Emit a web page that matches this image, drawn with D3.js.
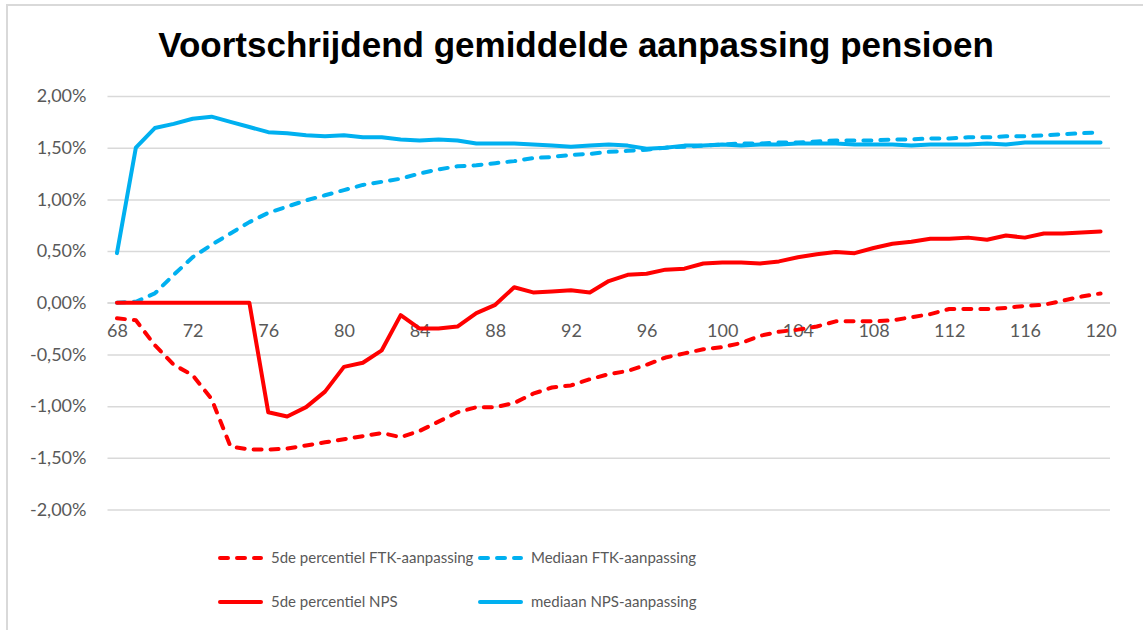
<!DOCTYPE html>
<html lang="nl">
<head>
<meta charset="utf-8">
<title>Voortschrijdend gemiddelde aanpassing pensioen</title>
<script src="https://cdn.jsdelivr.net/npm/d3@7"></script>
<style>
  body { margin: 0; background: #fff; }
  svg { display: block; }
  .tick text { font-family: Lato, "Open Sans", sans-serif; font-size: 18px; fill: #595959; }
</style>
</head>
<body>
<script>
// ages 68..120
var ages = d3.range(68, 121);
var xTicks = [68, 72, 76, 80, 84, 88, 92, 96, 100, 104, 108, 112, 116, 120];
var yTicks = [-2, -1.5, -1, -0.5, 0, 0.5, 1, 1.5, 2];

// values in percent
var ftk5 = [-0.15, -0.17, -0.41, -0.60, -0.70, -0.93, -1.39, -1.42, -1.42, -1.41,
  -1.38, -1.35, -1.32, -1.29, -1.26, -1.30, -1.24, -1.15, -1.06, -1.01,
  -1.01, -0.97, -0.88, -0.82, -0.80, -0.74, -0.69, -0.66, -0.60, -0.53,
  -0.49, -0.45, -0.43, -0.39, -0.32, -0.28, -0.26, -0.23, -0.18, -0.18,
  -0.18, -0.17, -0.14, -0.11, -0.06, -0.06, -0.06, -0.05, -0.03, -0.02,
  0.02, 0.06, 0.09];
var ftkMed = [0.00, 0.01, 0.09, 0.27, 0.44, 0.56, 0.67, 0.78, 0.87, 0.93,
  0.99, 1.04, 1.09, 1.14, 1.17, 1.20, 1.25, 1.29, 1.32, 1.33,
  1.35, 1.37, 1.40, 1.41, 1.43, 1.44, 1.46, 1.47, 1.48, 1.50,
  1.51, 1.52, 1.53, 1.54, 1.54, 1.55, 1.55, 1.56, 1.57, 1.57,
  1.57, 1.58, 1.58, 1.59, 1.59, 1.60, 1.60, 1.61, 1.61, 1.62,
  1.63, 1.64, 1.65];
var nps5 = [0, 0, 0, 0, 0, 0, 0, 0, -1.06, -1.10,
  -1.01, -0.86, -0.62, -0.58, -0.46, -0.12, -0.25, -0.25, -0.23, -0.10,
  -0.02, 0.15, 0.10, 0.11, 0.12, 0.10, 0.21, 0.27, 0.28, 0.32,
  0.33, 0.38, 0.39, 0.39, 0.38, 0.40, 0.44, 0.47, 0.49, 0.48,
  0.53, 0.57, 0.59, 0.62, 0.62, 0.63, 0.61, 0.65, 0.63, 0.67,
  0.67, 0.68, 0.69];
var npsMed = [0.48, 1.50, 1.69, 1.73, 1.78, 1.80, 1.75, 1.70, 1.65, 1.64,
  1.62, 1.61, 1.62, 1.60, 1.60, 1.58, 1.57, 1.58, 1.57, 1.54,
  1.54, 1.54, 1.53, 1.52, 1.51, 1.52, 1.53, 1.52, 1.49, 1.50,
  1.52, 1.52, 1.53, 1.52, 1.53, 1.53, 1.54, 1.54, 1.54, 1.53,
  1.53, 1.53, 1.52, 1.53, 1.53, 1.53, 1.54, 1.53, 1.55, 1.55,
  1.55, 1.55, 1.55];

var w = 1143, h = 630;
var red = "#ff0000", blue = "#00b0f0";

var svg = d3.select("body").append("svg")
  .attr("width", w)
  .attr("height", h);

// chart border (only top and left visible in the picture)
svg.append("rect")
  .attr("x", 7).attr("y", 5)
  .attr("width", 1200).attr("height", 700)
  .attr("fill", "none")
  .attr("stroke", "#d9d9d9")
  .attr("stroke-width", 2);

svg.append("text")
  .attr("x", 576).attr("y", 57)
  .attr("text-anchor", "middle")
  .style("font-family", "Liberation Sans, Arial, sans-serif")
  .style("font-weight", "bold")
  .style("font-size", "35px")
  .style("fill", "#000")
  .text("Voortschrijdend gemiddelde aanpassing pensioen");

var pLeft = 107.5, pRight = 1110, pTop = 96, pBottom = 509.5;

var x = d3.scalePoint()
  .domain(ages)
  .range([pLeft, pRight])
  .padding(0.5);

var y = d3.scaleLinear()
  .domain([-2, 2])
  .range([pBottom, pTop]);

var pct = function(d) {
  return d3.format(".2f")(d).replace("−", "-").replace(".", ",").replace("-0,00", "0,00") + "%";
};

// gridlines + y labels
var yAxis = svg.append("g")
  .attr("transform", "translate(" + pLeft + ",0)")
  .call(d3.axisLeft(y)
    .tickValues(yTicks)
    .tickSize(-(pRight - pLeft))
    .tickPadding(21)
    .tickFormat(pct));
yAxis.select(".domain").remove();
yAxis.selectAll(".tick line").attr("stroke", "#d9d9d9").attr("stroke-width", 1.5);

// x labels sit just below the zero line
var xAxis = svg.append("g")
  .attr("transform", "translate(0," + y(0) + ")")
  .call(d3.axisBottom(x).tickValues(xTicks).tickSize(0).tickPadding(21));
xAxis.select(".domain").attr("stroke", "#d9d9d9").attr("stroke-width", 1.5)
  .attr("d", "M" + pLeft + ",0H" + pRight);

var line = d3.line()
  .x(function(d, i) { return x(ages[i]); })
  .y(function(d) { return y(d); });

var series = [
  { name: "5de percentiel FTK-aanpassing", values: ftk5, color: red, dash: "8,9" },
  { name: "Mediaan FTK-aanpassing", values: ftkMed, color: blue, dash: "8,9" },
  { name: "5de percentiel NPS", values: nps5, color: red, dash: null },
  { name: "mediaan NPS-aanpassing", values: npsMed, color: blue, dash: null }
];

// draw order: blue under, red on top
[1, 3, 0, 2].forEach(function(k) {
  var s = series[k];
  svg.append("path")
    .datum(s.values)
    .attr("d", line)
    .attr("fill", "none")
    .attr("stroke", s.color)
    .attr("stroke-width", 4)
    .attr("stroke-linejoin", "round")
    .attr("stroke-linecap", "round")
    .attr("stroke-dasharray", s.dash);
});

// legend
var legendPos = [[218, 558], [478, 558], [218, 602], [478, 602]];
var legend = svg.append("g");
series.forEach(function(s, i) {
  var g = legend.append("g").attr("transform", "translate(" + legendPos[i][0] + "," + legendPos[i][1] + ")");
  g.append("line")
    .attr("x1", 2).attr("x2", 43)
    .attr("stroke", s.color)
    .attr("stroke-width", 4)
    .attr("stroke-linecap", "round")
    .attr("stroke-dasharray", s.dash);
  g.append("text")
    .attr("x", 53)
    .attr("dy", "0.35em")
    .style("font-family", "Lato, 'Open Sans', sans-serif")
    .style("font-size", "15px")
    .style("fill", "#595959")
    .text(s.name);
});
</script>
</body>
</html>
